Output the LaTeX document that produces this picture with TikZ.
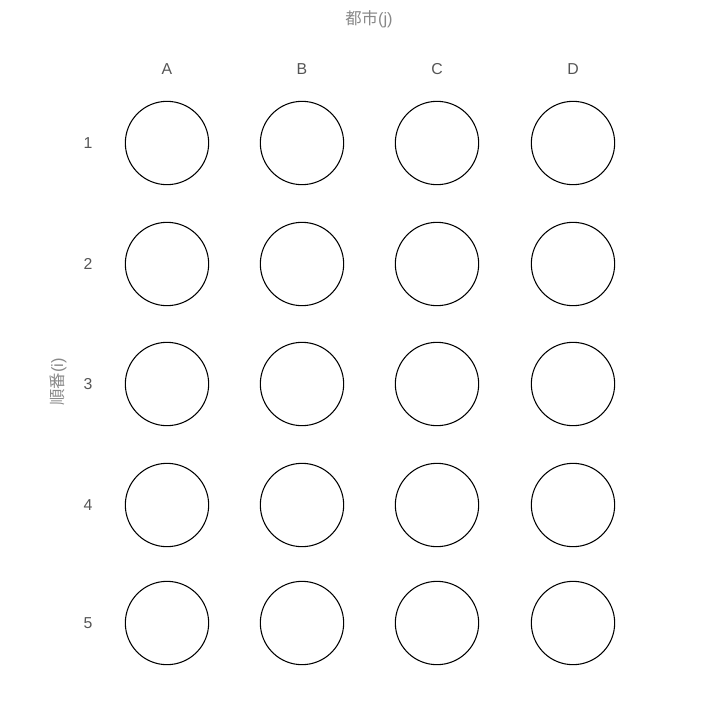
\documentclass[tikz,border=0pt]{standalone}
\usepackage{fontspec}
\setmainfont{Liberation Sans}
\newfontfamily\cjk{Noto Sans CJK JP}
\usetikzlibrary{positioning}
\definecolor{labelgray}{HTML}{555555}
\definecolor{titlegray}{HTML}{888888}

\begin{document}
\begin{tikzpicture}[
    x=0.03cm, y=-0.03cm,
    cell/.style={
        circle,
        draw,
        line width=0.9pt,
        minimum size=2.5cm,
        inner sep=0pt
    },
    lbl/.style={
        text=labelgray,
        font=\fontsize{13.5}{15}\selectfont
    },
    axis/.style={
        text=titlegray,
        font=\fontsize{14}{16}\selectfont
    }
]
\useasboundingbox (0,0) rectangle (704,700);

% Circles
\foreach \r/\y in {1/143,2/264,3/384,4/505,5/623}{
    \foreach \c/\x in {A/167,B/302,C/437,D/573}{
        \node[cell] (c-\r-\c) at (\x,\y) {};
    }
}

% Column labels
\foreach \c in {A,B,C,D}{
    \node[lbl, above=0.65cm of c-1-\c] (col-\c) {\c};
}

% Row labels
\foreach \r in {1,...,5}{
    \node[lbl, left=0.85cm of c-\r-A] (row-\r) {\r};
}

% Axis titles
\node[axis] (city) at (369,19) {{\cjk 都市}(j)};
\node[axis, rotate=90] (order) at (58,382) {{\cjk 順番}(i)};

\end{tikzpicture}
\end{document}
